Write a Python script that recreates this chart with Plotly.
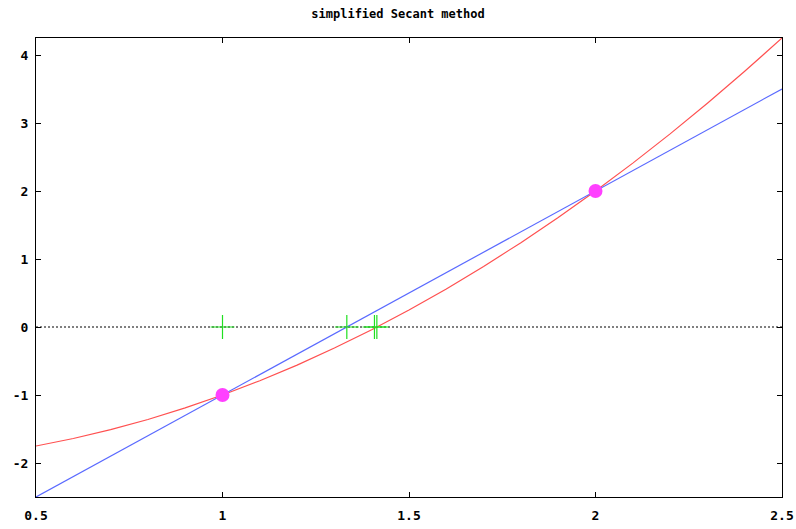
import plotly.graph_objects as go

# f(x) samples (red curve)
fx = [0.5, 0.6, 0.7, 0.8, 0.9, 1.0, 1.1, 1.2, 1.3, 1.4, 1.5, 1.6, 1.7, 1.8, 1.9, 2.0,
      2.1, 2.2, 2.3, 2.4, 2.5]
fy = [-1.75, -1.64, -1.51, -1.36, -1.19, -1.0, -0.79, -0.56, -0.31, -0.04, 0.25, 0.56,
      0.89, 1.24, 1.61, 2.0, 2.41, 2.84, 3.29, 3.76, 4.25]
# secant line (blue)
sx = [0.5, 2.5]
sy = [-2.5, 3.5]
# iterates (green crosses on zero axis)
ix = [1.0, 1.3333, 1.4074, 1.4138]
iy = [0, 0, 0, 0]
# secant points (magenta)
px = [1.0, 2.0]
py = [-1.0, 2.0]
# zero axis
zx = [0.5, 2.5]
zy = [0, 0]

xticks = [0.5, 1, 1.5, 2, 2.5]
xlabels = ["0.5", "1", "1.5", "2", "2.5"]
yticks = [-2, -1, 0, 1, 2, 3, 4]
ylabels = ["-2", "-1", "0", "1", "2", "3", "4"]

fig = go.Figure()
fig.add_trace(go.Scatter(x=zx, y=zy, mode="lines",
                         line=dict(color="black", width=1, dash="2px,2px")))
fig.add_trace(go.Scatter(x=fx, y=fy, mode="lines", line=dict(color="#ff5050", width=1.2)))
fig.add_trace(go.Scatter(x=sx, y=sy, mode="lines", line=dict(color="#5a6aff", width=1.2)))
fig.add_trace(go.Scatter(x=px, y=py, mode="markers",
                         marker=dict(color="#ff40ff", size=14, symbol="circle")))
fig.add_trace(go.Scatter(x=ix, y=iy, mode="markers",
                         marker=dict(color="#20e020", size=17, symbol="cross-thin",
                                     line=dict(color="#20e020", width=1.2))))

axfont = dict(family="DejaVu Sans Mono", size=13, color="black", weight="bold")
fig.update_layout(
    width=796, height=529,
    margin=dict(l=36, r=14, t=38, b=32),
    plot_bgcolor="white", paper_bgcolor="white",
    showlegend=False,
    title=dict(text="simplified Secant method", x=0.5, xanchor="center",
               y=1 - 14 / 529, yanchor="middle",
               font=dict(family="DejaVu Sans Mono", size=12, color="black", weight="bold")),
    xaxis=dict(range=[0.5, 2.5], tickvals=xticks, ticktext=xlabels, automargin=False,
               showgrid=False, zeroline=False, showline=True, linecolor="black",
               linewidth=1, mirror="ticks", ticks="inside", ticklen=5, tickcolor="black",
               tickfont=axfont, ticklabelstandoff=6),
    yaxis=dict(range=[-2.5, 4.25], tickvals=yticks, ticktext=ylabels, automargin=False,
               showgrid=False, zeroline=False, showline=True, linecolor="black",
               linewidth=1, mirror="ticks", ticks="inside", ticklen=5, tickcolor="black",
               tickfont=axfont, ticklabelstandoff=4),
)
fig.write_html("out.html")
